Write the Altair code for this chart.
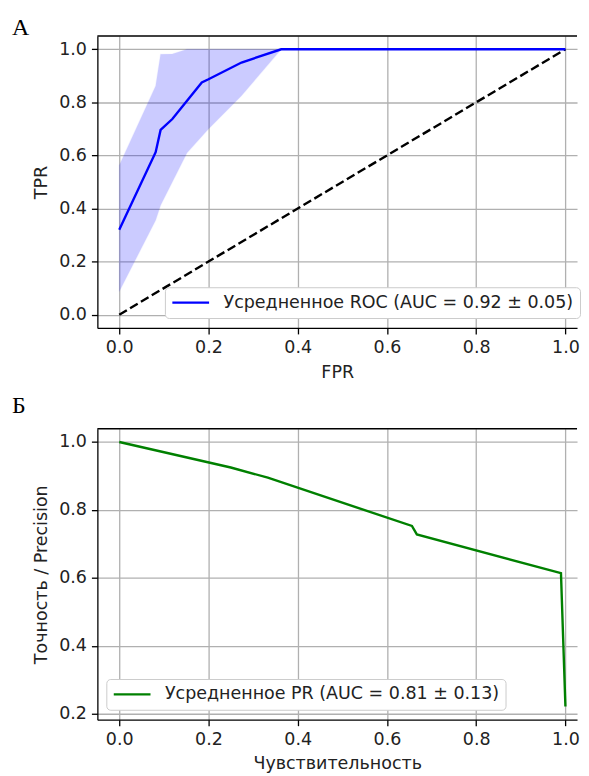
import altair as alt
import pandas as pd

# ROC panel data
roc_fpr = [0.0, 0.0816, 0.0927, 0.119, 0.185, 0.2, 0.274, 0.363, 1.0]
roc_tpr = [0.32, 0.612, 0.696, 0.737, 0.875, 0.887, 0.95, 1.0, 1.0]
band_fpr = [0.0, 0.0816, 0.0927, 0.119, 0.152, 0.2, 0.274, 0.363, 1.0]
band_upper = [0.5625, 0.862, 0.981, 0.982, 1.0, 1.0, 1.0, 1.0, 1.0]
band_lower = [0.087, 0.356, 0.412, 0.50, 0.61, 0.70, 0.825, 1.0, 1.0]
diag_x = [0.0, 1.0]
diag_y = [0.0, 1.0]
roc_label = "Усредненное ROC (AUC = 0.92 ± 0.05)"

# PR panel data
pr_recall = [0.0, 0.25, 0.333, 0.656, 0.667, 0.99, 1.0]
pr_precision = [1.0, 0.925, 0.895, 0.753, 0.728, 0.614, 0.222]
pr_label = "Усредненное PR (AUC = 0.81 ± 0.13)"

panel_letters = ["А", "Б"]

ticks01 = [0.0, 0.2, 0.4, 0.6, 0.8, 1.0]
ticks_pr = [0.2, 0.4, 0.6, 0.8, 1.0]

W = 483
FONT = "DejaVu Sans"
FS = 17.6

roc_df = pd.DataFrame({"x": roc_fpr, "y": roc_tpr, "s": roc_label})
band_df = pd.DataFrame({"x": band_fpr, "lo": band_lower, "hi": band_upper})
diag_df = pd.DataFrame({"x": diag_x, "y": diag_y})
pr_df = pd.DataFrame({"x": pr_recall, "y": pr_precision, "s": pr_label})

xdom = [-0.049, 1.026]

def xax(title):
    return alt.Axis(title=title, values=ticks01, format=".1f", labelPadding=5, titlePadding=7)

def yax(title, vals):
    return alt.Axis(title=title, values=vals, format=".1f", labelPadding=5, titlePadding=8)

x_scale = alt.Scale(domain=xdom, nice=False, zero=False)


def letter(t, dy):
    return alt.Chart(pd.DataFrame({"t": [t]})).mark_text(
        font="Liberation Serif", fontSize=24, color="black", align="left",
        baseline="alphabetic",
    ).encode(text="t:N", x=alt.value(-86), y=alt.value(dy))


def top_spine():
    # top frame line (the right side of the reference figure is cropped)
    return alt.Chart(pd.DataFrame({"k": [0]})).mark_rule(
        color="black", strokeWidth=1.3
    ).encode(x=alt.value(0), x2=alt.value(W), y=alt.value(0))


band = alt.Chart(band_df).mark_area(
    color="#0000ff", opacity=0.2, stroke="#0000ff", strokeOpacity=0.25, strokeWidth=1.2
).encode(
    x=alt.X("x:Q", scale=x_scale, axis=xax("FPR")),
    y=alt.Y("lo:Q", scale=alt.Scale(domain=[-0.05, 1.05], nice=False, zero=False),
            axis=yax("TPR", ticks01)),
    y2="hi:Q",
)

diag = alt.Chart(diag_df).mark_line(
    color="black", strokeWidth=2.4, strokeDash=[8.9, 3.8]
).encode(x="x:Q", y="y:Q")

roc = alt.Chart(roc_df).mark_line(strokeWidth=2.4).encode(
    x="x:Q",
    y="y:Q",
    color=alt.Color("s:N", scale=alt.Scale(range=["#0000ff"]),
                    legend=alt.Legend(title=None, orient="none", legendX=68, legendY=253)),
)

top = alt.layer(band, diag, roc, top_spine(), letter(panel_letters[0], -1)).properties(width=W, height=294)

pr = alt.Chart(pr_df).mark_line(strokeWidth=2.4).encode(
    x=alt.X("x:Q", scale=x_scale, axis=xax("Чувствительность")),
    y=alt.Y("y:Q", scale=alt.Scale(domain=[0.183, 1.039], nice=False, zero=False),
            axis=yax("Точность / Precision", ticks_pr)),
    color=alt.Color("s:N", scale=alt.Scale(range=["#008000"]),
                    legend=alt.Legend(title=None, orient="none", legendX=9, legendY=252)),
)

bottom = alt.layer(pr, top_spine(), letter(panel_letters[1], -16)).properties(width=W, height=293)

chart = alt.vconcat(top, bottom, spacing=12.5).resolve_scale(color="independent").properties(
    padding={"left": 4, "top": 5.5, "right": 0, "bottom": 0}
).configure_view(
    stroke=None
).configure_axis(
    domain=True, domainColor="black", domainWidth=1.3,
    grid=True, gridColor="#b0b0b0", gridWidth=1.3,
    tickColor="black", tickSize=6, tickWidth=1.3,
    labelFont=FONT, labelFontSize=FS, labelColor="#222222",
    titleFont=FONT, titleFontSize=FS, titleFontWeight="normal", titleColor="#222222",
).configure_legend(
    labelFont=FONT, labelFontSize=FS, labelColor="#222222", labelLimit=1000,
    symbolType="stroke", symbolSize=1369, symbolStrokeWidth=2.4, clipHeight=19,
    strokeColor="#cccccc", fillColor="white", padding=6, cornerRadius=4,
    labelOffset=13,
)

chart.save("out.html", embed_options={"renderer": "svg", "actions": False})
